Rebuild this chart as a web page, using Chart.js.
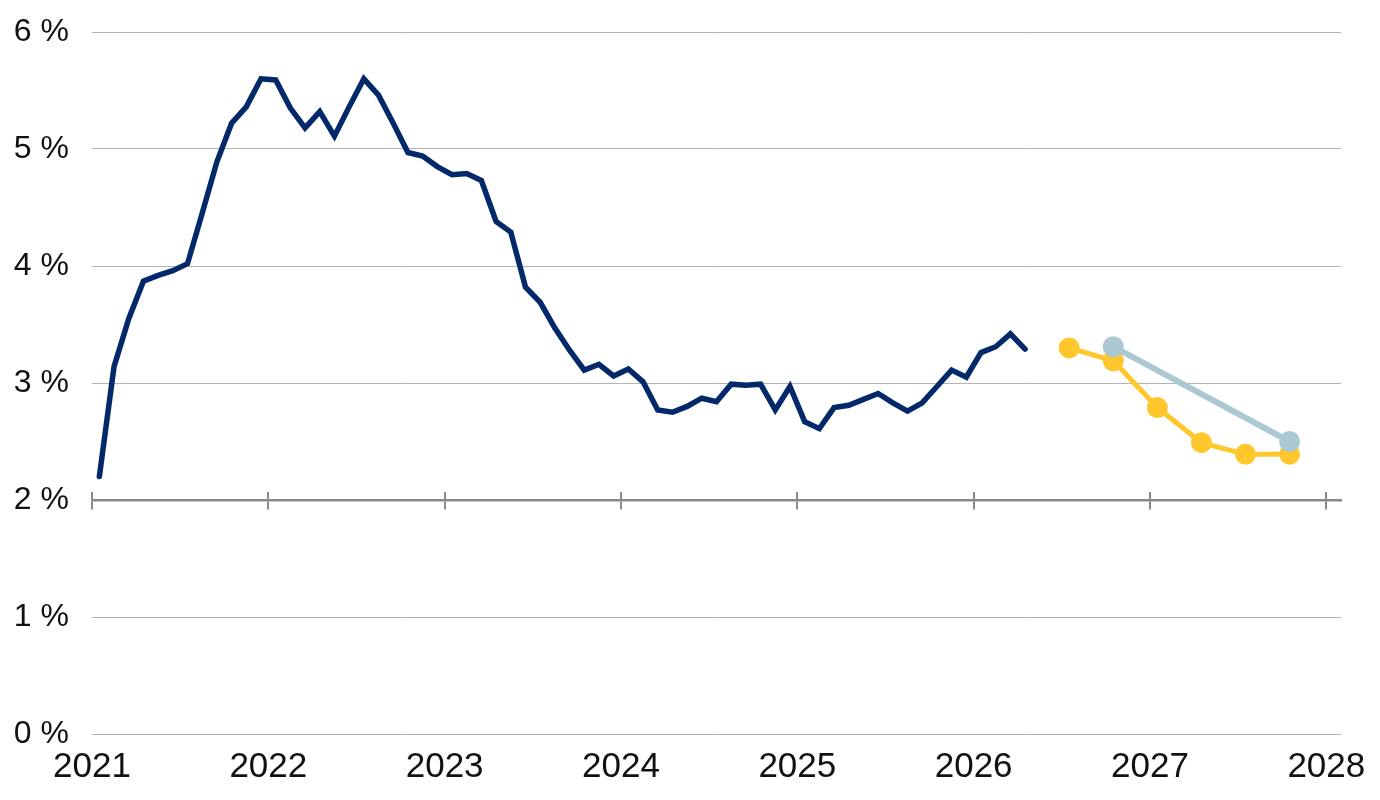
<!DOCTYPE html>
<html lang="en">
<head>
  <meta charset="UTF-8">
  <title>Inflation path</title>
  <script src="https://cdn.jsdelivr.net/npm/chart.js"></script>
  <style>
    html, body {
      margin: 0;
      padding: 0;
      background: #ffffff;
    }
    #chartBox {
      width: 1380px;
      height: 800px;
    }
  </style>
</head>
<body>
  <div id="chartBox">
    <canvas id="inflationChart" width="1380" height="800"></canvas>
  </div>

  <script>
    // monthly values, Jan 2021 onwards
    const firstYear = 2021;
    const monthlyValues = [
      2.20, 3.14, 3.55, 3.87, 3.92, 3.96, 4.02, 4.45, 4.89, 5.22, 5.36, 5.60,
      5.59, 5.35, 5.18, 5.32, 5.11, 5.36, 5.60, 5.46, 5.22, 4.97, 4.94, 4.85,
      4.78, 4.79, 4.73, 4.38, 4.29, 3.82, 3.69, 3.47, 3.28, 3.11, 3.16, 3.06,
      3.12, 3.01, 2.77, 2.75, 2.80, 2.87, 2.84, 2.99, 2.98, 2.99, 2.77, 2.97,
      2.67, 2.61, 2.79, 2.81, 2.86, 2.91, 2.83, 2.76, 2.83, 2.97, 3.11, 3.05,
      3.26, 3.31, 3.42, 3.29
    ];

    // forecasts
    const forecastMonths = ['2026-07', '2026-10', '2027-01', '2027-04', '2027-07', '2027-10'];
    const forecastValues = [3.30, 3.19, 2.79, 2.49, 2.39, 2.39];
    const olderForecastMonths = ['2026-10', '2027-10'];
    const olderForecastValues = [3.31, 2.50];

    const yearLabels = ['2021', '2022', '2023', '2024', '2025', '2026', '2027', '2028'];
    const yTicks = [0, 1, 2, 3, 4, 5, 6];

    // month index counted from Jan of firstYear, placed mid-month
    function monthPos(str) {
      const [y, m] = str.split('-').map(Number);
      return (y - firstYear) * 12 + (m - 1) + 0.5;
    }

    const monthlyPoints = monthlyValues.map((v, i) => ({ x: i + 0.5, y: v }));
    const forecastPoints = forecastValues.map((v, i) => ({ x: monthPos(forecastMonths[i]), y: v }));
    const olderPoints = olderForecastValues.map((v, i) => ({ x: monthPos(olderForecastMonths[i]), y: v }));

    const xMin = 0;
    const xMax = 85;
    const axisColor = '#8a8a8a';
    const labelFont = "'Liberation Sans', Arial, sans-serif";

    const yearTick = (value) => yearLabels[value / 12];
    const yearTicks = (axis) => {
      axis.ticks = yearLabels.map((_, i) => ({ value: i * 12 }));
    };

    new Chart(document.getElementById('inflationChart').getContext('2d'), {
      type: 'line',
      data: {
        datasets: [
          {
            data: monthlyPoints,
            borderColor: '#03296a',
            borderWidth: 5.5,
            pointRadius: 0,
            tension: 0,
            borderCapStyle: 'round'
          },
          {
            data: olderPoints,
            borderColor: '#abc8d3',
            backgroundColor: '#abc8d3',
            borderWidth: 6,
            pointRadius: 10.5,
            pointBorderWidth: 0,
            tension: 0
          },
          {
            data: forecastPoints,
            borderColor: '#ffc72c',
            backgroundColor: '#ffc72c',
            borderWidth: 5,
            pointRadius: 10.5,
            pointBorderWidth: 0,
            tension: 0
          }
        ]
      },
      options: {
        responsive: false,
        animation: false,
        devicePixelRatio: 1,
        layout: {
          padding: { left: 0, right: 39, top: 32, bottom: 0 }
        },
        plugins: {
          legend: { display: false },
          tooltip: { enabled: false }
        },
        scales: {
          x: {
            type: 'linear',
            min: xMin,
            max: xMax,
            border: { display: false },
            grid: { display: false, drawTicks: false },
            afterBuildTicks: yearTicks,
            ticks: {
              padding: 12,
              maxRotation: 0,
              autoSkip: false,
              color: '#111111',
              font: { family: labelFont, size: 35 },
              callback: yearTick
            }
          },
          xAxisBelow: {
            type: 'linear',
            axis: 'x',
            position: { y: 2 },
            min: xMin,
            max: xMax,
            afterBuildTicks: yearTicks,
            border: { display: true, color: axisColor, width: 2.5 },
            grid: { drawOnChartArea: false, drawTicks: true, tickLength: 8, color: axisColor, lineWidth: 2 },
            ticks: { display: false }
          },
          xAxisAbove: {
            type: 'linear',
            axis: 'x',
            position: { y: 2 },
            min: xMin,
            max: xMax,
            afterBuildTicks: yearTicks,
            border: { display: false },
            grid: { drawOnChartArea: false, drawTicks: true, tickLength: -8, color: axisColor, lineWidth: 2 },
            ticks: { display: false }
          },
          y: {
            min: 0,
            max: 6,
            afterBuildTicks: (axis) => {
              axis.ticks = yTicks.map(v => ({ value: v }));
            },
            afterFit: (axis) => {
              axis.width = 92;
              axis.paddingTop = 0;
              axis.paddingBottom = 0;
            },
            border: { display: false },
            grid: { color: '#b4b4b4', lineWidth: 1, drawTicks: false },
            ticks: {
              padding: 23,
              color: '#111111',
              font: { family: labelFont, size: 32 },
              callback: (value) => value + ' %'
            }
          }
        }
      }
    });
  </script>
</body>
</html>
